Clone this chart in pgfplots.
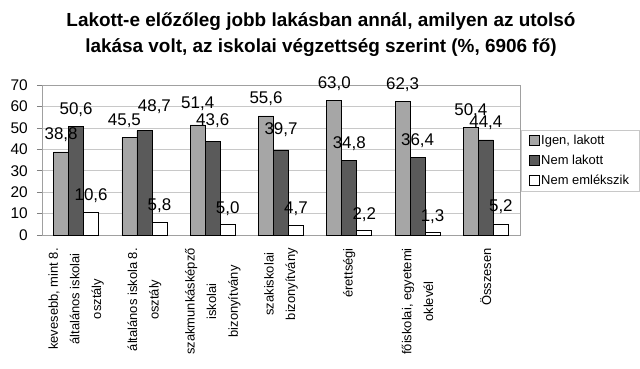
\documentclass[border=0pt]{standalone}
\usepackage{pgfplots}
\pgfplotsset{compat=1.18}
\usepackage{fontspec}
\setmainfont{Liberation Sans}
\definecolor{barA}{HTML}{A6A6A6}
\definecolor{barB}{HTML}{5A5A5A}
\definecolor{gridc}{HTML}{C8C8C8}
\definecolor{framec}{HTML}{A0A0A0}
\definecolor{axc}{HTML}{808080}
\tikzset{mylbl/.code={\edef\tmp{\noexpand\pgfkeysalso{\pgfplotspointmeta}}\tmp}}
\begin{document}
\begin{tikzpicture}
\begin{axis}[
  at={(0,0)}, anchor=south west,
  scale only axis, width=478bp, height=150bp,
  xmin=-0.5, xmax=6.5, ymin=0, ymax=70,
  ybar=0pt, bar width=15bp,
  ytick={0,10,...,70},
  ymajorgrids, grid style={gridc, line width=0.6pt},
  axis line style={framec},
  xtick={0,...,6},
  xticklabels={{kevesebb, mint 8.\\általános iskolai\\osztály},{általános iskola 8.\\osztály},{szakmunkásképző\\iskolai\\bizonyítvány},{szakiskolai\\bizonyítvány},{érettségi},{főiskolai, egyetemi\\oklevél},{Összesen}},
  x tick style={draw=none},
  extra x ticks={-0.5,0.5,1.5,2.5,3.5,4.5,5.5,6.5},
  extra x tick labels={},
  extra x tick style={grid=none, tick style={draw=axc, line width=0.6pt}, major tick length=5bp, tick align=outside},
  xticklabel style={yshift=-8bp, rotate=90, anchor=east, align=center, inner sep=0pt, font=\fontsize{13}{21.7}\selectfont},
  ytick pos=left, ytick align=outside, y tick style={draw=axc, line width=0.6pt}, major tick length=5bp,
  yticklabel style={font=\fontsize{15.5}{17}\selectfont, inner sep=0pt, xshift=-9bp},
  /pgf/number format/assume math mode=true,
  point meta=explicit symbolic,
  visualization depends on=rawy\as\rawy,
  nodes near coords={\pgfmathprintnumber[fixed, fixed zerofill, precision=1, use comma, assume math mode=true]{\rawy}},
  nodes near coords style={anchor=base, font=\fontsize{17}{20}\selectfont, text=black, mylbl},
  legend style={at={(1.002,0.70)}, anchor=north west, draw=gridc, font=\fontsize{13}{15}\selectfont, cells={anchor=west}, row sep=5bp, inner xsep=8bp, inner ysep=3bp},
  legend image code/.code={\draw[#1, draw=black, line width=0.6pt] (0bp,-4.5bp) rectangle (9.5bp,5bp);},
]
\addplot[fill=barA, draw=black, line width=0.6pt] coordinates {
  (0,38.8) [yshift=12bp]
  (1,45.5) [yshift=12bp,xshift=-5bp]
  (2,51.4) [yshift=16.5bp]
  (3,55.6) [yshift=12bp]
  (4,63.0) [yshift=12bp]
  (5,62.3) [yshift=12bp]
  (6,50.4) [yshift=12bp]};
\addplot[fill=barB, draw=black, line width=0.6pt] coordinates {
  (0,50.6) [yshift=12.5bp]
  (1,48.7) [yshift=19bp,xshift=10bp]
  (2,43.6) [yshift=16.5bp]
  (3,39.7) [yshift=15bp]
  (4,34.8) [yshift=12bp]
  (5,36.4) [yshift=12bp]
  (6,44.4) [yshift=12bp]};
\addplot[fill=white, draw=black, line width=0.6pt] coordinates {
  (0,10.6) [yshift=12bp]
  (1,5.8) [yshift=12bp]
  (2,5.0) [yshift=11bp]
  (3,4.7) [yshift=11.5bp]
  (4,2.2) [yshift=11bp]
  (5,1.3) [yshift=10.5bp]
  (6,5.2) [yshift=12bp]};
\legend{{Igen, lakott},{Nem lakott},{Nem emlékszik}}
\end{axis}
\node[anchor=base, font=\bfseries\fontsize{19}{22}\selectfont] at (279bp,208bp) {Lakott-e előzőleg jobb lakásban annál, amilyen az utolsó};
\node[anchor=base, font=\bfseries\fontsize{19}{22}\selectfont] at (279bp,182bp) {lakása volt, az iskolai végzettség szerint (\%, 6906 fő)};
\pgfresetboundingbox
\path[use as bounding box] (-42bp,-134bp) rectangle (598bp,235bp);
\end{tikzpicture}
\end{document}
